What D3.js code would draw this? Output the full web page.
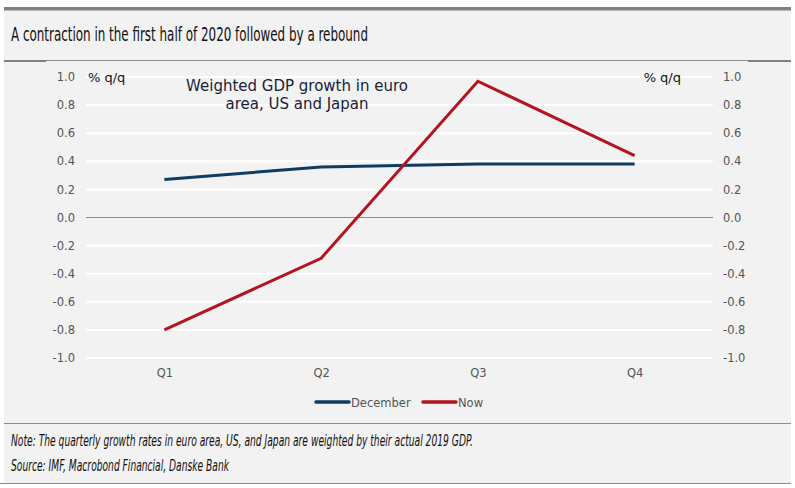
<!DOCTYPE html>
<html>
<head>
<meta charset="utf-8">
<script src="https://cdnjs.cloudflare.com/ajax/libs/d3/7.8.5/d3.min.js"></script>
<style>
  body { margin: 0; background: #fff; }
  svg { display: block; }
</style>
</head>
<body>
<div id="chart"></div>
<script>
var quarters = ['Q1', 'Q2', 'Q3', 'Q4'];
var december = [0.27, 0.36, 0.38, 0.38];
var nowValues = [-0.80, -0.29, 0.97, 0.44];
var yTicks = [-1.0, -0.8, -0.6, -0.4, -0.2, 0.0, 0.2, 0.4, 0.6, 0.8, 1.0];

var W = 795, H = 488;
var svg = d3.select('#chart').append('svg').attr('width', W).attr('height', H);

// panel background and frame lines
svg.append('rect').attr('x', 4).attr('y', 7).attr('width', 787).attr('height', 477).attr('fill', '#f2f2f2');
svg.append('rect').attr('x', 4).attr('y', 7).attr('width', 787).attr('height', 3.5).attr('fill', '#808080');
svg.append('line').attr('x1', 4).attr('x2', 791).attr('y1', 60.5).attr('y2', 60.5).attr('stroke', '#8a8a8a').attr('stroke-width', 1);
svg.append('rect').attr('x', 4).attr('y', 60).attr('width', 42).attr('height', 2).attr('fill', '#808080');
svg.append('rect').attr('x', 748).attr('y', 60).attr('width', 43).attr('height', 2).attr('fill', '#808080');
svg.append('line').attr('x1', 4).attr('x2', 791).attr('y1', 423.5).attr('y2', 423.5).attr('stroke', '#8a8a8a').attr('stroke-width', 1);
svg.append('line').attr('x1', 0).attr('x2', 791).attr('y1', 483.5).attr('y2', 483.5).attr('stroke', '#8a8a8a').attr('stroke-width', 1);

var narrow = '"Liberation Sans Narrow", "DejaVu Sans Condensed", sans-serif';
var axisFont = '"DejaVu Sans", sans-serif';

svg.append('text').attr('x', 11).attr('y', 41)
  .attr('font-family', narrow).attr('font-size', 19.5).attr('fill', '#111')
  .attr('textLength', 357).attr('lengthAdjust', 'spacingAndGlyphs')
  .text('A contraction in the first half of 2020 followed by a rebound');

// plot
var plotLeft = 86, plotRight = 713, plotTop = 77, plotBottom = 358;
var x = d3.scalePoint().domain(quarters).range([plotLeft, plotRight]).padding(0.5);
var y = d3.scaleLinear().domain([-1, 1]).range([plotBottom, plotTop]);

var g = svg.append('g');
g.selectAll('.grid').data(yTicks.filter(function (d) { return d !== 0; }))
  .enter().append('line')
  .attr('x1', plotLeft).attr('x2', plotRight)
  .attr('y1', function (d) { return y(d); }).attr('y2', function (d) { return y(d); })
  .attr('stroke', '#ffffff').attr('stroke-width', 2);
g.append('line').attr('x1', plotLeft).attr('x2', plotRight).attr('y1', y(0)).attr('y2', y(0))
  .attr('stroke', '#8c8c8c').attr('stroke-width', 1);

var fmt = function (d) { return d.toFixed(1); };
var yLeft = svg.append('g').attr('transform', 'translate(' + (plotLeft - 11) + ',0)')
  .call(d3.axisLeft(y).tickValues(yTicks).tickSize(0).tickFormat(fmt));
var yRight = svg.append('g').attr('transform', 'translate(' + (plotRight + 10) + ',0)')
  .call(d3.axisRight(y).tickValues(yTicks).tickSize(0).tickFormat(fmt));
var xAxis = svg.append('g').attr('transform', 'translate(0,' + (plotBottom + 8) + ')')
  .call(d3.axisBottom(x).tickSize(0));
[yLeft, yRight, xAxis].forEach(function (a) {
  a.select('.domain').remove();
  a.selectAll('text').attr('font-family', axisFont).attr('font-size', 11.5).attr('fill', '#555');
});
yLeft.selectAll('text').attr('x', 0);
yRight.selectAll('text').attr('x', 0);

svg.append('text').attr('x', 88).attr('y', 82).attr('font-family', axisFont)
  .attr('font-size', 13).attr('fill', '#111').text('% q/q');
svg.append('text').attr('x', 681).attr('y', 82).attr('text-anchor', 'end').attr('font-family', axisFont)
  .attr('font-size', 13).attr('fill', '#111').text('% q/q');

var note = svg.append('text').attr('text-anchor', 'middle')
  .attr('font-family', axisFont).attr('font-size', 15).attr('fill', '#1a2238');
note.append('tspan').attr('x', 297).attr('y', 91).text('Weighted GDP growth in euro');
note.append('tspan').attr('x', 297).attr('y', 109).text('area, US and Japan');

var series = [
  { name: 'December', values: december, color: '#0e3d61' },
  { name: 'Now', values: nowValues, color: '#b2151f' }
];
var line = d3.line()
  .x(function (d, i) { return x(quarters[i]); })
  .y(function (d) { return y(d); });
series.forEach(function (s) {
  svg.append('path').datum(s.values).attr('d', line)
    .attr('fill', 'none').attr('stroke', s.color).attr('stroke-width', 3);
});

// legend
var legendX = [316, 423];
series.forEach(function (s, i) {
  var lg = svg.append('g').attr('transform', 'translate(' + legendX[i] + ',402)');
  lg.append('line').attr('x1', 0).attr('x2', 33).attr('y1', 0).attr('y2', 0)
    .attr('stroke', s.color).attr('stroke-width', 3.5).attr('stroke-linecap', 'round');
  lg.append('text').attr('x', 35).attr('y', 4.5).attr('font-family', axisFont)
    .attr('font-size', 11.5).attr('fill', '#555').text(s.name);
});

var foot = svg.append('text').attr('font-family', narrow).attr('font-style', 'italic')
  .attr('font-size', 15).attr('fill', '#111');
foot.append('tspan').attr('x', 11).attr('y', 446).attr('textLength', 462).attr('lengthAdjust', 'spacingAndGlyphs')
  .text('Note: The quarterly growth rates in euro area, US, and Japan are weighted by their actual 2019 GDP.');
foot.append('tspan').attr('x', 11).attr('y', 471).attr('textLength', 218).attr('lengthAdjust', 'spacingAndGlyphs')
  .text('Source: IMF, Macrobond Financial, Danske Bank');
</script>
</body>
</html>
